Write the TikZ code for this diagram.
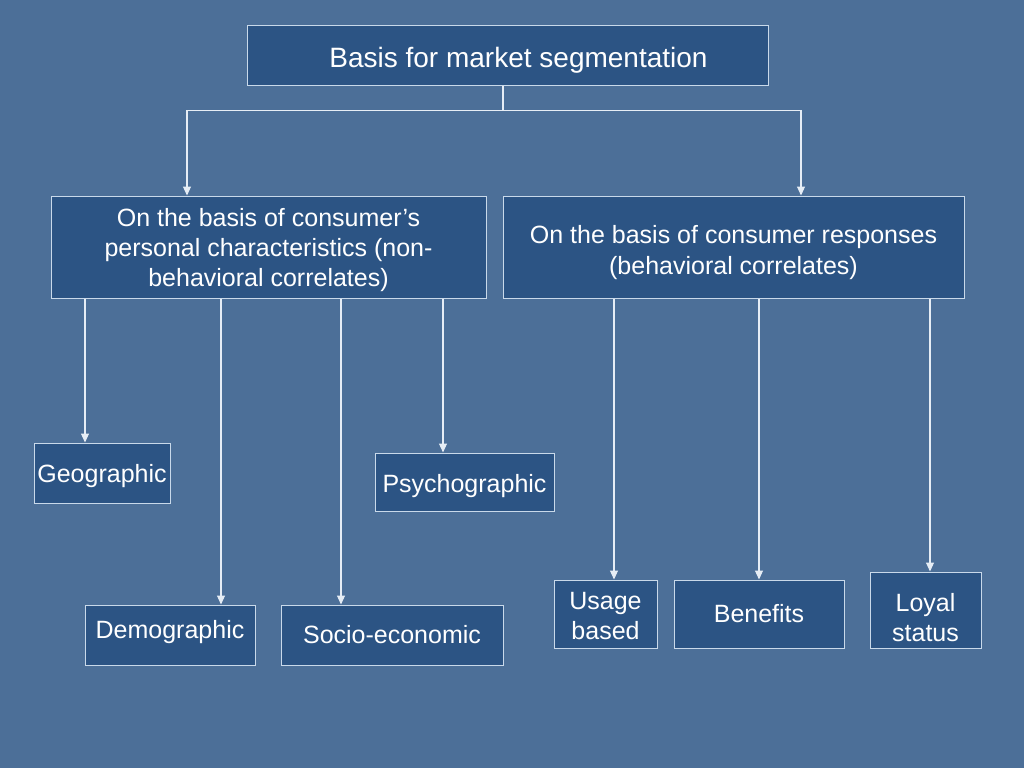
\documentclass[tikz,border=0pt]{standalone}
\usepackage{fontspec}
\setmainfont{Liberation Sans}
\usetikzlibrary{arrows.meta}
\definecolor{bg}{HTML}{4C6F98}
\definecolor{boxfill}{HTML}{2C5484}
\definecolor{boxline}{HTML}{C9D9EA}
\definecolor{conn}{HTML}{E6EDF5}
\newcommand{\tx}[2]{\raisebox{#1}[\height][\depth]{\begin{tabular}{@{}c@{}}#2\end{tabular}}}
\tikzset{
  box/.style={draw=boxline, line width=1pt, fill=boxfill, text=white, inner sep=0pt,
    align=center, font=\fontsize{25}{30}\selectfont},
  arr/.style={draw=conn, line width=1.1pt, -{Triangle[length=9pt,width=8pt]}},
  ln/.style={draw=conn, line width=1.1pt}
}
\begin{document}
\begin{tikzpicture}[x=1pt,y=-1pt]
\fill[bg] (0,0) rectangle (1024,768);
\useasboundingbox (0,0) rectangle (1024,768);

\node[box, minimum width=521pt, minimum height=59pt, font=\fontsize{28}{33}\selectfont] (top) at (507.5,55.5) {\hspace*{22pt}\tx{-5pt}{Basis for market segmentation}};
\node[box, minimum width=435pt, minimum height=102pt] (L) at (268.5,247) {\tx{-3pt}{On the basis of consumer’s\\personal characteristics (non-\\behavioral correlates)}};
\node[box, minimum width=461pt, minimum height=102pt] (R) at (733.5,247) {\tx{-6pt}{On the basis of consumer responses\\[1pt](behavioral correlates)}};

\node[box, minimum width=136pt, minimum height=60pt] (geo) at (102,473) {\tx{-3pt}{Geographic}};
\node[box, minimum width=179pt, minimum height=58pt] (psy) at (464.5,482) {\tx{-4pt}{Psychographic}};
\node[box, minimum width=170pt, minimum height=60pt] (dem) at (170,635) {\tx{3pt}{Demographic}};
\node[box, minimum width=222pt, minimum height=60pt] (soc) at (392,635) {\tx{-2pt}{Socio-economic}};
\node[box, minimum width=103pt, minimum height=68pt] (use) at (605.5,614) {\tx{-4pt}{Usage\\based}};
\node[box, minimum width=170pt, minimum height=68pt] (ben) at (759,614) {\tx{-2pt}{Benefits}};
\node[box, minimum width=111pt, minimum height=76pt] (loy) at (925.5,610) {\tx{-10pt}{Loyal\\status}};

\coordinate (j) at (503,110.5);
\draw[ln] (503,0 |- top.south) -- (j);
\draw[arr] (j) -| (187,0 |- L.north);
\draw[arr] (j) -| (801,0 |- R.north);

\draw[arr] (85,0 |- L.south) -- (85,0 |- geo.north);
\draw[arr] (221,0 |- L.south) -- (221,0 |- dem.north);
\draw[arr] (341,0 |- L.south) -- (341,0 |- soc.north);
\draw[arr] (443,0 |- L.south) -- (443,0 |- psy.north);

\draw[arr] (614,0 |- R.south) -- (614,0 |- use.north);
\draw[arr] (759,0 |- R.south) -- (759,0 |- ben.north);
\draw[arr] (930,0 |- R.south) -- (930,0 |- loy.north);
\end{tikzpicture}
\end{document}
